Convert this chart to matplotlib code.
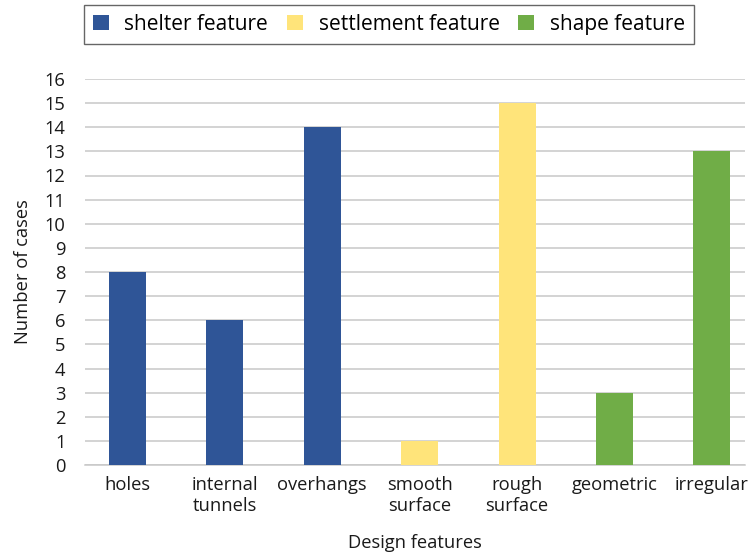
import numpy as np
import matplotlib.pyplot as plt
from matplotlib.patches import Patch

plt.rcParams['font.family'] = ['Open Sans', 'DejaVu Sans']

categories = ['holes', 'internal\ntunnels', 'overhangs', 'smooth\nsurface',
              'rough\nsurface', 'geometric', 'irregular']
cases = [8, 6, 14, 1, 15, 3, 13]
groups = ['shelter', 'shelter', 'shelter', 'settlement', 'settlement', 'shape', 'shape']
group_names = ['shelter feature', 'settlement feature', 'shape feature']
group_colors = {'shelter': '#2F5597', 'settlement': '#FFE47A', 'shape': '#70AD47'}

fig = plt.figure(figsize=(7.49, 5.55), dpi=100)
ax = fig.add_axes([85 / 749, 90 / 555, 660 / 749, 386 / 555])

x = np.arange(len(categories))
ax.bar(x, cases, width=0.38, color=[group_colors[g] for g in groups], zorder=3)

ax.set_xlim(-0.436, 6.34)
ax.set_ylim(0, 16)
ax.set_yticks(range(0, 17))
ax.set_xticks(x)
ax.set_xticklabels(categories, fontsize=13.2, color='#1a1a1a', linespacing=1.2)
ax.tick_params(axis='y', labelsize=13.2, length=0, pad=14, labelcolor='#1a1a1a')
ax.tick_params(axis='x', length=0, pad=8)
ax.grid(axis='y', color='#c8c8c8', linewidth=1.1, zorder=0)
for s in ['top', 'right', 'left']:
    ax.spines[s].set_visible(False)
ax.spines['bottom'].set_color('#c8c8c8')
ax.spines['bottom'].set_linewidth(1.1)

ax.set_xlabel('Design features', fontsize=13.2, labelpad=14, color='#1a1a1a')
ax.set_ylabel('Number of cases', fontsize=13.2, labelpad=9, color='#1a1a1a')

handles = [Patch(facecolor=group_colors[k], label=n)
           for k, n in zip(['shelter', 'settlement', 'shape'], group_names)]
fig.legend(handles=handles, loc='upper left', bbox_to_anchor=(84 / 749, 1 - 5 / 555),
           ncol=3, fontsize=15, frameon=True, fancybox=False, edgecolor='#404040',
           handlelength=0.77, handleheight=0.77, columnspacing=0.9, handletextpad=0.75,
           borderpad=0.42, borderaxespad=0)

fig.savefig('out.png', dpi=100)
